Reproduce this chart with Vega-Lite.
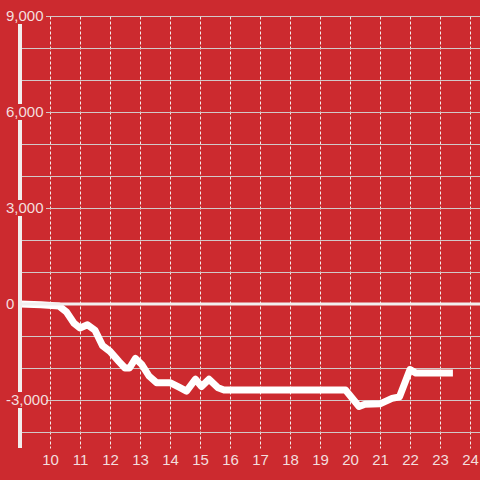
{
  "$schema": "https://vega.github.io/schema/vega-lite/v6.json",
  "width": 460,
  "height": 432,
  "autosize": {"type": "none"},
  "padding": {"left": 20, "top": 16, "right": 0, "bottom": 32},
  "background": "#cc2a2f",
  "config": {"view": {"stroke": null}, "font": "Liberation Sans"},
  "datasets": {
    "series": [
      {"h": 9.0, "v": 0}, {"h": 9.7, "v": -20}, {"h": 10.3, "v": -60}, {"h": 10.55, "v": -250},
      {"h": 10.8, "v": -600}, {"h": 11.0, "v": -750}, {"h": 11.25, "v": -650}, {"h": 11.5, "v": -820},
      {"h": 11.75, "v": -1300}, {"h": 12.0, "v": -1480}, {"h": 12.3, "v": -1800}, {"h": 12.5, "v": -2000},
      {"h": 12.65, "v": -2000}, {"h": 12.85, "v": -1700}, {"h": 13.05, "v": -1880}, {"h": 13.3, "v": -2250},
      {"h": 13.55, "v": -2460}, {"h": 14.0, "v": -2460}, {"h": 14.3, "v": -2600}, {"h": 14.55, "v": -2720},
      {"h": 14.85, "v": -2350}, {"h": 15.05, "v": -2580}, {"h": 15.3, "v": -2350}, {"h": 15.6, "v": -2620},
      {"h": 15.8, "v": -2690}, {"h": 19.85, "v": -2690}, {"h": 20.3, "v": -3200}, {"h": 20.5, "v": -3130},
      {"h": 21.0, "v": -3120}, {"h": 21.4, "v": -2950}, {"h": 21.65, "v": -2900}, {"h": 22.0, "v": -2050},
      {"h": 22.2, "v": -2160}, {"h": 23.43, "v": -2160}
    ],
    "ticks": [
      {"v": 9000, "label": "9,000", "h": 9}, {"v": 6000, "label": "6,000", "h": 9}, {"v": 3000, "label": "3,000", "h": 9},
      {"v": 0, "label": "0", "h": 9}, {"v": -3000, "label": "-3,000", "h": 9}
    ]
  },
  "layer": [
    {
      "data": {"name": "series"},
      "mark": {"type": "line", "color": "#ffffff", "strokeWidth": 7, "strokeJoin": "round", "strokeCap": "butt"},
      "encoding": {
        "x": {
          "field": "h", "type": "quantitative",
          "scale": {"domain": [9, 24.333], "nice": false, "zero": false},
          "axis": {
            "values": [10, 11, 12, 13, 14, 15, 16, 17, 18, 19, 20, 21, 22, 23, 24],
            "tickCount": 15,
            "labelOverlap": false,
            "format": "d", "title": null, "domain": false, "ticks": false,
            "grid": true, "gridColor": "#f4eaea", "gridDash": [3, 2], "gridWidth": 1,
            "labelColor": "#f3dede", "labelFontSize": 15, "labelPadding": 4, "labelFont": "Liberation Sans"
          }
        },
        "y": {
          "field": "v", "type": "quantitative",
          "scale": {"domain": [-4500, 9000], "nice": false, "zero": false},
          "axis": {
            "values": [-4000, -3000, -2000, -1000, 0, 1000, 2000, 3000, 4000, 5000, 6000, 7000, 8000, 9000],
            "tickCount": 14,
            "title": null, "domain": false, "ticks": false, "labels": false,
            "grid": true, "gridColor": "#d2c8c8", "gridWidth": 1
          }
        }
      }
    },
    {
      "data": {"name": "ticks"},
      "transform": [{"filter": "datum.v == 0"}],
      "mark": {"type": "rule", "color": "#f2eeee", "strokeWidth": 3},
      "encoding": {"y": {"field": "v", "type": "quantitative"}}
    },
    {
      "data": {"name": "ticks"},
      "transform": [{"filter": "datum.v == 0"}],
      "mark": {"type": "rule", "color": "#f2eeee", "strokeWidth": 4},
      "encoding": {"x": {"field": "h", "type": "quantitative"}}
    },
    {
      "data": {"name": "ticks"},
      "transform": [{"filter": "datum.v != 0"}],
      "mark": {"type": "point", "filled": true, "shape": "M-1,-0.39H1V0.39H-1Z", "size": 1681, "color": "#cc2a2f", "opacity": 1, "xOffset": 5.5, "strokeWidth": 0},
      "encoding": {
        "x": {"field": "h", "type": "quantitative"},
        "y": {"field": "v", "type": "quantitative"}
      }
    },
    {
      "data": {"name": "ticks"},
      "mark": {"type": "text", "align": "left", "baseline": "middle", "dx": -14, "fontSize": 15, "color": "#f3dede", "font": "Liberation Sans"},
      "encoding": {
        "x": {"field": "h", "type": "quantitative"},
        "y": {"field": "v", "type": "quantitative"},
        "text": {"field": "label"}
      }
    }
  ]
}
